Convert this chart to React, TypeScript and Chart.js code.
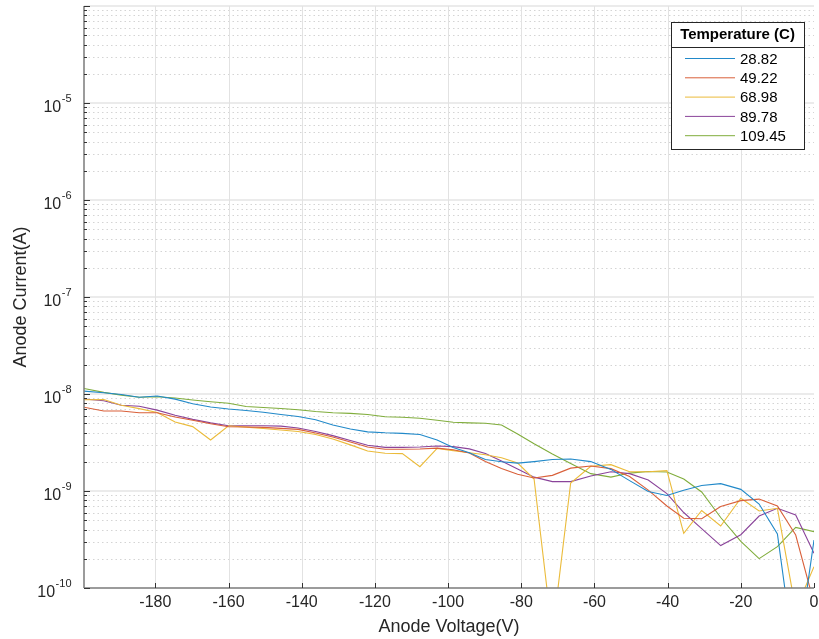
import React, { useEffect, useRef } from "react";
import { Chart, registerables } from "chart.js";

Chart.register(...registerables);

const FONT = "'Liberation Sans', Arial, Helvetica, sans-serif";
const TEXT = "#262626";

// Anode voltage (V) of each measurement point
const voltages = [
  -199.5, -194.1, -189.3, -184.4, -179.5, -174.6, -169.8, -164.9, -160, -155.2,
  -150.5, -145.7, -141, -136.2, -131.5, -126.7, -122, -117.2, -112.5, -107.7,
  -103, -98.6, -94.2, -89.8, -85.4, -81, -76.5, -71.5, -66.5, -61,
  -55.5, -50.4, -45.3, -40.2, -35.6, -30.7, -25.5, -20, -15, -10, -5, 0,
];

const temperatures = ["28.82", "49.22", "68.98", "89.78", "109.45"];

// Anode current (A) per temperature
const current2882 = [
  1.07e-8, 1.03e-8, 9.88e-9, 9.27e-9, 9.53e-9, 8.85e-9, 7.94e-9, 7.34e-9, 7.0e-9, 6.76e-9,
  6.49e-9, 6.15e-9, 5.86e-9, 5.42e-9, 4.79e-9, 4.36e-9, 4.07e-9, 3.98e-9, 3.93e-9, 3.82e-9,
  3.35e-9, 2.81e-9, 2.48e-9, 2.11e-9, 2.0e-9, 1.94e-9, 2.01e-9, 2.11e-9, 2.14e-9, 2.01e-9,
  1.67e-9, 1.28e-9, 9.88e-10, 8.99e-10, 1.02e-9, 1.14e-9, 1.19e-9, 1.04e-9, 7.34e-10, 3.6e-10,
  1.5e-11, 3.12e-10,
];
const current4922 = [
  7.31e-9, 6.68e-9, 6.68e-9, 6.41e-9, 6.4e-9, 5.79e-9, 5.36e-9, 4.93e-9, 4.6e-9, 4.57e-9,
  4.53e-9, 4.42e-9, 4.32e-9, 3.96e-9, 3.61e-9, 3.2e-9, 2.84e-9, 2.69e-9, 2.69e-9, 2.71e-9,
  2.77e-9, 2.66e-9, 2.46e-9, 2.01e-9, 1.71e-9, 1.49e-9, 1.36e-9, 1.45e-9, 1.72e-9, 1.81e-9,
  1.7e-9, 1.41e-9, 1.02e-9, 7.0e-10, 5.23e-10, 5.17e-10, 6.92e-10, 7.96e-10, 8.25e-10, 7.0e-10,
  3.52e-10, 7e-11,
];
const current6898 = [
  8.71e-9, 8.78e-9, 7.66e-9, 7.07e-9, 6.46e-9, 5.14e-9, 4.61e-9, 3.36e-9, 4.7e-9, 4.55e-9,
  4.41e-9, 4.25e-9, 4.1e-9, 3.82e-9, 3.44e-9, 2.99e-9, 2.58e-9, 2.45e-9, 2.43e-9, 1.78e-9,
  2.75e-9, 2.61e-9, 2.48e-9, 2.36e-9, 2.2e-9, 1.94e-9, 1.33e-9, 3.3e-11, 1.21e-9, 1.8e-9,
  1.87e-9, 1.58e-9, 1.58e-9, 1.62e-9, 3.66e-10, 6.29e-10, 4.36e-10, 8.41e-10, 6.22e-10, 6.63e-10,
  6e-11, 1.66e-10,
];
const current8978 = [
  8.88e-9, 8.53e-9, 7.66e-9, 7.48e-9, 6.82e-9, 6.03e-9, 5.48e-9, 5.04e-9, 4.71e-9, 4.7e-9,
  4.71e-9, 4.66e-9, 4.46e-9, 4.1e-9, 3.72e-9, 3.31e-9, 2.96e-9, 2.82e-9, 2.82e-9, 2.84e-9,
  2.91e-9, 2.87e-9, 2.72e-9, 2.44e-9, 2.04e-9, 1.69e-9, 1.39e-9, 1.25e-9, 1.25e-9, 1.43e-9,
  1.58e-9, 1.51e-9, 1.3e-9, 9.4e-10, 6.0e-10, 4.1e-10, 2.74e-10, 3.54e-10, 5.52e-10, 6.63e-10,
  5.66e-10, 2.28e-10,
];
const current10945 = [
  1.14e-8, 1.04e-8, 9.74e-9, 9.27e-9, 9.38e-9, 9.09e-9, 8.67e-9, 8.31e-9, 8.04e-9, 7.43e-9,
  7.26e-9, 7.09e-9, 6.87e-9, 6.59e-9, 6.4e-9, 6.32e-9, 6.15e-9, 5.82e-9, 5.75e-9, 5.62e-9,
  5.36e-9, 5.11e-9, 5.04e-9, 5.0e-9, 4.79e-9, 3.87e-9, 3.07e-9, 2.41e-9, 1.92e-9, 1.51e-9,
  1.39e-9, 1.53e-9, 1.59e-9, 1.57e-9, 1.33e-9, 9.77e-10, 5.33e-10, 3.02e-10, 2.01e-10, 2.67e-10,
  4.21e-10, 3.81e-10,
];

const seriesCurrents = [current2882, current4922, current6898, current8978, current10945];
const seriesColors = ["#2189c9", "#d9603a", "#ebbb3a", "#8a449a", "#80ad3c"];

const xTickValues = [-180, -160, -140, -120, -100, -80, -60, -40, -20, 0];
const yLabelExponents = [-10, -9, -8, -7, -6, -5];
const yGridExponents = [-10, -9, -8, -7, -6, -5, -4];
const X_MIN = -199.5;
const X_MAX = 0;
const Y_MIN = 1e-10;
const Y_MAX = 1e-4;
const legendTitle = "Temperature (C)";

function line(ctx: CanvasRenderingContext2D, x1: number, y1: number, x2: number, y2: number) {
  ctx.beginPath();
  ctx.moveTo(x1, y1);
  ctx.lineTo(x2, y2);
  ctx.stroke();
}

const matlabAxes = {
  id: "matlabAxes",
  beforeDatasetsDraw(chart: any) {
    const { ctx, chartArea, scales } = chart;
    const { left, right, top, bottom } = chartArea;
    const x = scales.x;
    const y = scales.y;
    ctx.save();
    // minor y grid (dotted)
    ctx.strokeStyle = "#d4d4d4";
    ctx.lineWidth = 1;
    ctx.setLineDash([1.5, 3]);
    for (const e of yGridExponents) {
      for (let m = 2; m <= 9; m++) {
        const v = m * Math.pow(10, e);
        if (v > Y_MAX) continue;
        const py = Math.round(y.getPixelForValue(v)) + 0.5;
        line(ctx, left, py, right, py);
      }
    }
    ctx.setLineDash([]);
    // major y grid
    ctx.strokeStyle = "#e4e4e4";
    ctx.lineWidth = 1.5;
    for (const e of yGridExponents) {
      const py = y.getPixelForValue(Math.pow(10, e));
      if (py < top - 1 || py > bottom - 1) continue;
      line(ctx, left, py, right, py);
    }
    // x grid
    ctx.strokeStyle = "#e2e2e2";
    ctx.lineWidth = 1;
    for (const v of xTickValues) {
      const px = Math.round(x.getPixelForValue(v)) + 0.5;
      if (px > right - 1) continue;
      line(ctx, px, top, px, bottom);
    }
    ctx.restore();
  },
  afterDatasetsDraw(chart: any) {
    const { ctx, chartArea, scales } = chart;
    const { left, right, top, bottom } = chartArea;
    const x = scales.x;
    const y = scales.y;
    ctx.save();
    // axis lines
    ctx.strokeStyle = "#7a7a7a";
    ctx.lineWidth = 1.5;
    line(ctx, left, top, left, bottom);
    line(ctx, left, bottom, right, bottom);
    // ticks (inward)
    ctx.strokeStyle = "#333333";
    ctx.lineWidth = 1;
    for (const e of yGridExponents) {
      for (let m = 1; m <= 9; m++) {
        const v = m * Math.pow(10, e);
        if (v > Y_MAX) continue;
        const py = Math.round(y.getPixelForValue(v)) + 0.5;
        line(ctx, left, py, left + (m === 1 ? 6 : 3), py);
      }
    }
    for (const v of xTickValues) {
      const px = Math.round(x.getPixelForValue(v)) + 0.5;
      line(ctx, px, bottom, px, bottom - 5);
    }
    // y tick labels with superscript exponents
    ctx.fillStyle = TEXT;
    ctx.textBaseline = "alphabetic";
    ctx.textAlign = "left";
    for (const e of yLabelExponents) {
      const py = y.getPixelForValue(Math.pow(10, e));
      const base = "10";
      const exp = String(e);
      ctx.font = `16px ${FONT}`;
      const wb = ctx.measureText(base).width;
      ctx.font = `11px ${FONT}`;
      const we = ctx.measureText(exp).width;
      const x0 = left - 13 - wb - we;
      ctx.font = `16px ${FONT}`;
      ctx.fillText(base, x0, py + 9);
      ctx.font = `11px ${FONT}`;
      ctx.fillText(exp, x0 + wb + 0.5, py - 1);
    }
    // legend
    const lx1 = 671, ly1 = 22, lx2 = 804, ly2 = 149;
    ctx.fillStyle = "#ffffff";
    ctx.fillRect(lx1, ly1, lx2 - lx1, ly2 - ly1);
    ctx.strokeStyle = "#262626";
    ctx.lineWidth = 1;
    ctx.strokeRect(lx1 + 0.5, ly1 + 0.5, lx2 - lx1, ly2 - ly1);
    line(ctx, lx1, 47.5, lx2, 47.5);
    ctx.fillStyle = "#000000";
    ctx.font = `bold 15px ${FONT}`;
    ctx.textAlign = "center";
    ctx.textBaseline = "middle";
    ctx.fillText(legendTitle, (lx1 + lx2) / 2, 35);
    ctx.font = `15px ${FONT}`;
    ctx.textAlign = "left";
    chart.data.datasets.forEach((ds: any, i: number) => {
      const ly = 58.5 + i * 19.3;
      ctx.strokeStyle = ds.borderColor;
      ctx.lineWidth = 1;
      line(ctx, 685, ly, 735, ly);
      ctx.fillStyle = "#000000";
      ctx.fillText(ds.label, 740, ly + 1);
    });
    ctx.restore();
  },
};

export default function App() {
  const canvasRef = useRef<HTMLCanvasElement | null>(null);

  useEffect(() => {
    const canvas = canvasRef.current;
    if (!canvas) return;
    Chart.defaults.font.family = FONT;
    const datasets = temperatures.map((t, i) => ({
      label: t,
      data: voltages.map((v, j) => ({ x: v, y: seriesCurrents[i][j] })),
      borderColor: seriesColors[i],
      backgroundColor: seriesColors[i],
      borderWidth: 1.1,
      pointRadius: 0,
      tension: 0,
      fill: false,
    }));
    const chart = new Chart(canvas, {
      type: "line",
      data: { datasets },
      options: {
        animation: false,
        responsive: false,
        devicePixelRatio: 1,
        layout: { padding: { left: 0, right: 5, top: 6, bottom: 0 } },
        plugins: { legend: { display: false }, tooltip: { enabled: false } },
        scales: {
          x: {
            type: "linear",
            min: X_MIN,
            max: X_MAX,
            afterBuildTicks: (scale: any) => {
              scale.ticks = xTickValues.map((v) => ({ value: v }));
            },
            afterFit: (scale: any) => {
              scale.height = 51;
              scale.paddingLeft = 0;
              scale.paddingRight = 0;
            },
            grid: { display: false, drawTicks: false, tickLength: 0 },
            border: { display: false },
            ticks: {
              autoSkip: false,
              maxRotation: 0,
              padding: 5,
              color: TEXT,
              font: { family: FONT, size: 16 },
            },
            title: {
              display: true,
              text: "Anode Voltage(V)",
              color: TEXT,
              font: { family: FONT, size: 18 },
              padding: { top: 0, bottom: 1 },
            },
          },
          y: {
            type: "logarithmic",
            min: Y_MIN,
            max: Y_MAX,
            afterFit: (scale: any) => {
              scale.width = 84;
              scale.paddingTop = 0;
              scale.paddingBottom = 0;
            },
            grid: { display: false, drawTicks: false, tickLength: 0 },
            border: { display: false },
            ticks: { display: false },
            title: {
              display: true,
              text: "Anode Current(A)",
              color: TEXT,
              font: { family: FONT, size: 18 },
              padding: { top: 10, bottom: 0 },
            },
          },
        },
      },
      plugins: [matlabAxes],
    } as any);
    return () => chart.destroy();
  }, []);

  return (
    <div style={{ position: "absolute", left: 0, top: 0, width: 819, height: 639, background: "#fff" }}>
      <canvas ref={canvasRef} width={819} height={639} />
    </div>
  );
}
